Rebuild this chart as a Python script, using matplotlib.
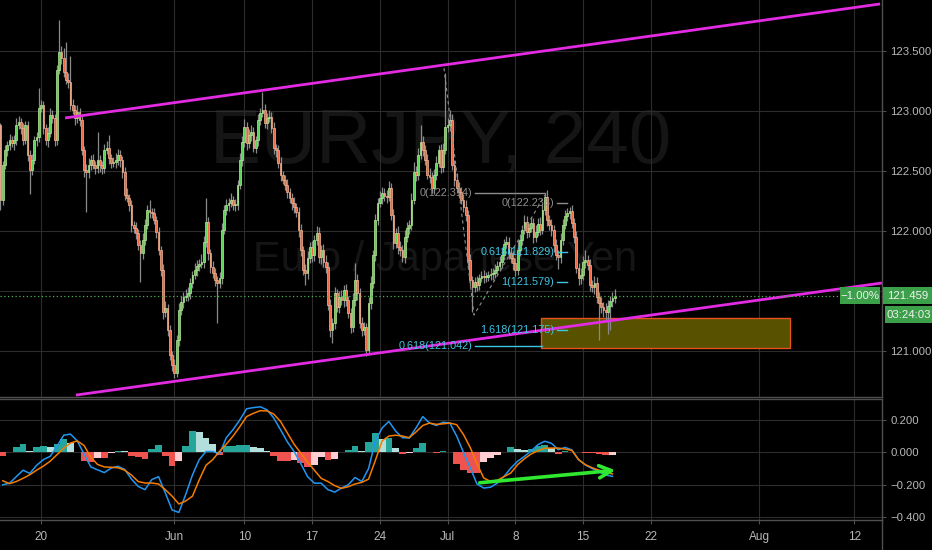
import matplotlib
matplotlib.use("Agg")
import matplotlib.pyplot as plt
import numpy as np
from matplotlib.lines import Line2D
from matplotlib.patches import Rectangle

# ---------------------------------------------------------------------------
# EURJPY 4h bars, 15 May - 17 Jul 2019
# ---------------------------------------------------------------------------
first_open = 122.883
closes = [
    122.258, 122.55, 122.675, 122.717, 122.758, 122.733, 122.758, 122.883, 122.908, 122.858,  # 0
    122.758, 122.883, 122.633, 122.508, 122.592, 122.758, 122.783, 123.025, 123.05, 122.858,  # 10
    122.758, 122.817, 122.967, 122.942, 122.758, 123.342, 123.492, 123.442, 123.325, 123.258,  # 20
    123.242, 123.05, 123.008, 122.942, 122.992, 122.925, 122.675, 122.508, 122.492, 122.55,  # 30
    122.592, 122.55, 122.525, 122.592, 122.55, 122.525, 122.675, 122.692, 122.608, 122.567,  # 40
    122.575, 122.592, 122.633, 122.592, 122.492, 122.3, 122.275, 122.217, 122.05, 122.025,  # 50
    121.983, 121.883, 121.817, 121.925, 122.05, 122.175, 122.158, 122.15, 122.092, 121.992,  # 60
    121.842, 121.675, 121.325, 121.358, 121.175, 120.967, 120.883, 120.817, 121.092, 121.342,  # 70
    121.408, 121.45, 121.459, 121.483, 121.567, 121.633, 121.675, 121.708, 121.725, 121.742,  # 80
    121.908, 122.075, 121.817, 121.7, 121.65, 121.592, 121.567, 121.608, 122.008, 122.175,  # 90
    122.217, 122.233, 122.258, 122.217, 122.217, 122.383, 122.592, 122.742, 122.867, 122.733,  # 100
    122.8, 122.825, 122.692, 122.758, 122.925, 122.983, 123.008, 122.9, 122.942, 122.95,  # 110
    122.858, 122.692, 122.675, 122.567, 122.467, 122.425, 122.383, 122.325, 122.275, 122.233,  # 120
    122.2, 122.158, 122.008, 121.842, 121.675, 121.65, 121.775, 121.867, 121.8, 121.925,  # 130
    121.983, 121.783, 121.842, 121.742, 121.7, 121.383, 121.175, 121.233, 121.483, 121.367,  # 140
    121.45, 121.425, 121.508, 121.425, 121.317, 121.2, 121.425, 121.592, 121.483, 121.233,  # 150
    121.175, 121.2, 121.008, 121.4, 121.567, 121.8, 122.092, 122.233, 122.275, 122.317,  # 160
    122.292, 122.283, 122.358, 122.133, 121.9, 121.983, 121.867, 121.842, 121.783, 121.95,  # 170
    122.025, 122.05, 122.258, 122.492, 122.467, 122.633, 122.742, 122.675, 122.592, 122.467,  # 180
    122.45, 122.358, 122.467, 122.567, 122.675, 122.533, 122.675, 122.867, 122.883, 122.925,  # 190
    122.55, 122.425, 122.358, 122.325, 122.258, 122.2, 122.133, 121.758, 121.592, 121.533,  # 200
    121.575, 121.55, 121.608, 121.625, 121.617, 121.617, 121.633, 121.642, 121.65, 121.675,  # 210
    121.708, 121.742, 121.8, 121.892, 121.908, 121.817, 121.775, 121.733, 121.675, 121.842,  # 220
    121.925, 122.008, 122.075, 121.992, 122.025, 122.067, 121.95, 121.992, 122.058, 122.008,  # 230
    122.175, 122.283, 122.092, 122.05, 122.008, 121.883, 121.8, 121.783, 121.925, 122.05,  # 240
    122.125, 122.15, 122.167, 122.067, 121.95, 121.692, 121.608, 121.633, 121.742, 121.758,  # 250
    121.717, 121.55, 121.533, 121.567, 121.45, 121.4, 121.367, 121.342, 121.325, 121.375,  # 260
    121.417, 121.442, 121.459,  # 270
]
# wick lengths beyond the candle body, in pips
wick_up = [
    2, 3, 4, 3, 5, 3, 4, 6, 5, 3, 4, 3, 3, 4, 5, 3, 4, 17, 4, 3,
    3, 5, 6, 4, 3, 4, 27, 5, 8, 25, 6, 22, 5, 4, 6, 3, 4, 3, 5, 6,
    4, 5, 3, 23, 4, 3, 5, 6, 11, 3, 4, 6, 5, 4, 3, 4, 6, 3, 4, 3,
    5, 3, 4, 6, 5, 4, 8, 3, 4, 3, 4, 3, 5, 6, 3, 4, 3, 5, 4, 6,
    5, 4, 6, 5, 4, 3, 6, 5, 4, 7, 5, 20, 4, 3, 5, 4, 3, 5, 6, 4,
    5, 4, 6, 3, 5, 4, 6, 5, 7, 4, 5, 6, 4, 3, 5, 4, 15, 5, 4, 6,
    4, 5, 3, 4, 5, 3, 4, 5, 3, 4, 5, 3, 4, 5, 3, 5, 6, 4, 5, 4,
    6, 5, 4, 5, 6, 4, 5, 4, 5, 3, 5, 6, 4, 5, 3, 4, 6, 14, 5, 4,
    5, 4, 3, 5, 6, 4, 5, 4, 6, 5, 4, 5, 6, 4, 5, 4, 6, 5, 4, 6,
    5, 4, 6, 8, 5, 6, 14, 5, 4, 5, 6, 4, 5, 6, 4, 5, 6, 45, 6, 8,
    5, 4, 6, 5, 4, 5, 6, 4, 5, 3, 4, 5, 3, 4, 5, 4, 3, 5, 4, 5,
    4, 5, 6, 4, 5, 4, 5, 6, 4, 8, 5, 4, 6, 5, 4, 5, 4, 6, 5, 6,
    5, 3, 6, 4, 5, 4, 5, 4, 6, 5, 5, 4, 3, 5, 4, 5, 4, 6, 5, 8,
    4, 5, 4, 6, 5, 4, 5, 4, 6, 5, 4, 5, 6,
]
wick_dn = [
    8, 4, 3, 5, 4, 3, 6, 4, 3, 5, 4, 3, 5, 20, 4, 3, 5, 4, 3, 5,
    4, 6, 3, 4, 5, 4, 3, 5, 4, 3, 5, 4, 3, 6, 4, 5, 4, 6, 33, 5,
    4, 3, 5, 4, 6, 5, 4, 3, 5, 4, 3, 5, 4, 6, 5, 4, 3, 5, 6, 4,
    5, 4, 24, 5, 4, 3, 5, 4, 3, 5, 4, 5, 6, 4, 5, 4, 5, 4, 3, 5,
    4, 5, 3, 4, 5, 4, 3, 5, 4, 3, 5, 4, 6, 5, 4, 5, 33, 4, 5, 3,
    4, 5, 3, 4, 5, 4, 3, 5, 4, 6, 4, 5, 3, 4, 5, 4, 3, 4, 5, 3,
    4, 5, 6, 4, 5, 3, 4, 5, 4, 6, 5, 4, 6, 5, 4, 10, 5, 4, 6, 5,
    4, 5, 6, 4, 5, 4, 6, 11, 5, 4, 5, 4, 6, 5, 4, 5, 4, 5, 6, 4,
    5, 4, 5, 4, 5, 4, 5, 4, 3, 5, 4, 5, 3, 4, 5, 4, 6, 5, 4, 5,
    4, 5, 4, 3, 5, 4, 3, 5, 4, 3, 5, 4, 5, 4, 3, 5, 4, 3, 4, 5,
    4, 5, 4, 5, 3, 4, 5, 6, 5, 21, 4, 5, 4, 3, 5, 4, 3, 4, 5, 4,
    3, 4, 5, 4, 3, 5, 4, 6, 5, 4, 5, 4, 3, 5, 4, 3, 5, 4, 3, 4,
    3, 4, 5, 4, 5, 6, 4, 10, 5, 4, 3, 4, 5, 4, 5, 4, 6, 5, 4, 5,
    4, 5, 4, 6, 5, 31, 5, 6, 7, 18, 20, 5, 4,
]

# MACD (12, 26, 9): one reading every third bar, at bar 3k + 1
macd_line = [
    -0.20, -0.19, -0.15, -0.11, -0.13, -0.08, -0.045, -0.025, 0.037, 0.105,
    0.112, 0.07, -0.01, -0.09, -0.108, -0.125, -0.097, -0.086, -0.105, -0.165,
    -0.21, -0.23, -0.168, -0.15, -0.25, -0.355, -0.37, -0.26, -0.14, -0.045,
    0.005, 0.005, -0.01, 0.09, 0.14, 0.2, 0.268, 0.275, 0.28, 0.262,
    0.211, 0.139, 0.065, 0.005, -0.07, -0.15, -0.19, -0.19, -0.23, -0.245,
    -0.22, -0.2, -0.155, -0.18, -0.1, 0.07, 0.15, 0.19, 0.13, 0.09,
    0.088, 0.15, 0.22, 0.18, 0.165, 0.185, 0.18, 0.1, 0.0, -0.095,
    -0.195, -0.22, -0.215, -0.19, -0.148, -0.097, -0.055, -0.025, 0.008, 0.047,
    0.068, 0.055, 0.016, 0.03, 0.015, -0.045, -0.078, -0.1, -0.12, -0.14,
    -0.148,
]
signal_line = [
    -0.175, -0.193, -0.18, -0.16, -0.138, -0.11, -0.085, -0.055, -0.015, 0.025,
    0.057, 0.07, 0.042, -0.03, -0.075, -0.09, -0.092, -0.095, -0.11, -0.14,
    -0.18, -0.189, -0.189, -0.195, -0.23, -0.27, -0.318, -0.30, -0.27, -0.17,
    -0.08, -0.045, 0.006, 0.05, 0.1, 0.158, 0.22, 0.24, 0.256, 0.255,
    0.235, 0.19, 0.12, 0.05, -0.005, -0.06, -0.11, -0.16, -0.18, -0.205,
    -0.222, -0.212, -0.195, -0.185, -0.165, -0.05, 0.07, 0.1, 0.105, 0.1,
    0.09, 0.125, 0.165, 0.18, 0.172, 0.175, 0.18, 0.17, 0.11, 0.03,
    -0.07, -0.158, -0.179, -0.172, -0.15, -0.127, -0.076, -0.04, -0.01, 0.01,
    0.025, 0.026, 0.026, 0.02, 0.012, -0.045, -0.076, -0.095, -0.11, -0.125,
    -0.133,
]

date_bars = [18, 77, 108, 138, 168, 198, 228, 258, 288, 336, 378]
date_labels = ["20", "Jun", "10", "17", "24", "Jul", "8", "15", "22", "Aug", "12"]
price_ticks = [121.0, 121.5, 122.0, 122.5, 123.0, 123.5]
price_labels = ["121.000", "", "122.000", "122.500", "123.000", "123.500"]
macd_ticks = [0.2, 0.0, -0.2, -0.4]
macd_labels = ["0.200", "0.000", "\u22120.200", "\u22120.400"]

last_price = 121.459
change_text = "\u22121.00%"
countdown = "03:24:03"

# drawings on the chart (bar index, price)
upper_x, upper_y = [28.6, 389.5], [122.942, 123.892]
lower_x, lower_y = [33.4, 390.3], [120.633, 121.567]
zone_x, zone_y = [239.3, 349.6], [121.025, 121.275]
fib_text = ["0(122.314)", "0(122.233)", "0.618(121.829)", "1(121.579)", "1.618(121.175)", "0.618(121.042)"]
fib_price = [122.314, 122.233, 121.829, 121.579, 121.175, 121.042]
fib_x0 = [210.1, 246.4, 246.4, 246.4, 246.4, 210.1]
fib_x1 = [241.1, 250.9, 250.9, 250.9, 250.9, 239.8]
trend_x, trend_y = [196.4, 209.7, 241.1], [123.358, 121.30, 122.30]
arrow_x, arrow_y = [211.0, 273.5], [-0.189, -0.109]

# ---------------------------------------------------------------------------
# style
# ---------------------------------------------------------------------------
BG = "#000000"
GRID = "#2c2c2c"
AXIS = "#4f4f4f"
TEXT = "#b8b8b8"
UP, UP_EDGE = "#5cd257", "#b8eb98"
DN, DN_EDGE = "#ee6842", "#f6b795"
WICK = "#8a8a8a"
MAGENTA = "#e22be2"
CYAN = "#3fc6e3"
FIB_GRAY = "#8e8e8e"
LIVE = "#3c9f4a"
WATERMARK = "#151515"

plt.rcParams.update({"font.family": ["Liberation Sans", "DejaVu Sans"],
                     "axes.facecolor": BG, "figure.facecolor": BG})

W, H = 932, 550
fig = plt.figure(figsize=(W / 100, H / 100), dpi=100)
ax = fig.add_axes([0, 1 - 397 / H, 882 / W, 397 / H])
ax2 = fig.add_axes([0, 1 - 520 / H, 882 / W, 121 / H], sharex=ax)

for a in (ax, ax2):
    a.set_facecolor(BG)
    a.spines["left"].set_visible(False)
    for s in ("top", "right", "bottom"):
        a.spines[s].set_color(AXIS)
        a.spines[s].set_linewidth(1.0)
    a.yaxis.tick_right()
    a.tick_params(axis="y", colors=AXIS, labelcolor=TEXT, labelsize=8.2, length=3, pad=3)
    a.grid(True, color=GRID, linewidth=0.8)
    a.set_axisbelow(True)
ax.spines["top"].set_visible(False)

ax.set_xlim(-0.21, 390.35)
ax.set_ylim(120.617, 123.925)
ax2.set_ylim(-0.4166, 0.328)

ax.set_xticks(date_bars)
ax.tick_params(axis="x", length=0, labelbottom=False)
ax2.tick_params(axis="x", colors=AXIS, labelcolor=TEXT, labelsize=8.5, length=3, pad=5)
ax2.set_xticks(date_bars, date_labels)
ax.set_yticks(price_ticks, price_labels)
ax2.set_yticks(macd_ticks, macd_labels)

# ---------------------------------------------------------------------------
# watermark
# ---------------------------------------------------------------------------
ax.text(0.5, 0.64, "EURJPY, 240", transform=ax.transAxes, ha="center", va="center",
        fontsize=55, color=WATERMARK, zorder=0.5)
ax.text(0.505, 0.345, "Euro / Japanese Yen", transform=ax.transAxes, ha="center", va="center",
        fontsize=30, color=WATERMARK, zorder=0.5)

# ---------------------------------------------------------------------------
# candles
# ---------------------------------------------------------------------------
c = np.array(closes)
o = np.concatenate([[first_open], c[:-1]])
hi = np.maximum(o, c) + np.array(wick_up) / 100
lo = np.minimum(o, c) - np.array(wick_dn) / 100
x = np.arange(len(c))
up = c >= o

ax.add_patch(Rectangle((zone_x[0], zone_y[0]), zone_x[1] - zone_x[0], zone_y[1] - zone_y[0],
                       facecolor="#575100", edgecolor="#e5531a", linewidth=1.0, zorder=1))

ax.vlines(x, lo, hi, color=WICK, linewidth=0.9, zorder=2)
body = np.maximum(np.abs(c - o), 0.005)
ax.bar(x[up], body[up], bottom=o[up], width=0.78, color=UP, edgecolor=UP_EDGE, linewidth=0.5, zorder=3)
ax.bar(x[~up], body[~up], bottom=c[~up], width=0.78, color=DN, edgecolor=DN_EDGE, linewidth=0.5, zorder=3)

# channel
ax.plot(upper_x, upper_y, color=MAGENTA, linewidth=2.0, zorder=4, solid_capstyle="butt")
ax.plot(lower_x, lower_y, color=MAGENTA, linewidth=2.0, zorder=4, solid_capstyle="butt")

# fib extension drawings
ax.plot(trend_x, trend_y, color=FIB_GRAY, linewidth=0.8, linestyle=(0, (3, 3)), zorder=4)
for label, p, x0, x1 in zip(fib_text, fib_price, fib_x0, fib_x1):
    col = FIB_GRAY if label.startswith("0(") else CYAN
    ax.plot([x0, x1], [p, p], color=col, linewidth=1.0, zorder=4)
    ax.text(x0 - 1.2, p, label, ha="right", va="center", fontsize=7.8, color=col, zorder=5)

# last price line
ax.axhline(last_price, color="#4caf50", linewidth=0.9, linestyle=(0, (1, 2)), zorder=4)

# ---------------------------------------------------------------------------
# MACD
# ---------------------------------------------------------------------------
mx = np.arange(len(macd_line)) * 3 + 1
hist = np.array(macd_line) - np.array(signal_line)
hcols = []
for k, h in enumerate(hist):
    prev = hist[k - 1] if k else h
    if h >= 0:
        hcols.append("#26a69a" if h >= prev else "#b2dfdb")
    else:
        hcols.append("#ffcdd2" if h > prev else "#ef5350")
ax2.bar(mx, hist, width=3, color=hcols, linewidth=0, zorder=2)
ax2.plot(mx, macd_line, color="#2196f3", linewidth=1.1, zorder=3)
ax2.plot(mx, signal_line, color="#f57c00", linewidth=1.1, zorder=3)
ax2.annotate("", xy=(arrow_x[1], arrow_y[1]), xytext=(arrow_x[0], arrow_y[0]),
             arrowprops=dict(arrowstyle="->", color="#2fe82f", linewidth=2.6, mutation_scale=22),
             zorder=5)

# ---------------------------------------------------------------------------
# price scale badges
# ---------------------------------------------------------------------------
fig.canvas.draw()
_, yd = ax.transData.transform((0, last_price))
yc = yd / H


def badge(x0, x1, ymid, text, h=17):
    fig.add_artist(Rectangle((x0 / W, ymid - h / 2 / H), (x1 - x0) / W, h / H,
                             transform=fig.transFigure, facecolor=LIVE, edgecolor="none", zorder=10))
    fig.text((x0 + x1) / 2 / W, ymid, text, ha="center", va="center", fontsize=8.2,
             color="#f2f2f2", zorder=11)


badge(840, 880, yc, change_text)
badge(883, 932, yc, f"{last_price:.3f}")
badge(885, 932, yc - 19 / H, countdown)

fig.add_artist(Line2D([882 / W, 882 / W], [0, 30 / H], transform=fig.transFigure, color=AXIS, linewidth=1.0))

fig.savefig("out.png", dpi=100, facecolor=BG)
